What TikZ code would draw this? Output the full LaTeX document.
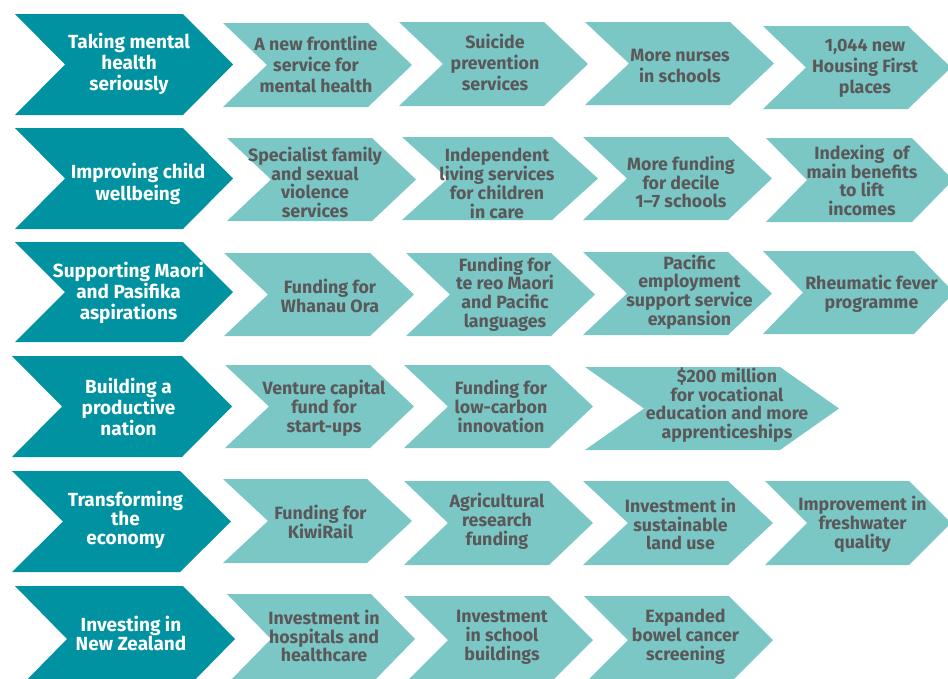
\documentclass[tikz,border=0pt]{standalone}
\usepackage{fontspec}
\setmainfont{Fira Sans}
\definecolor{darkteal}{HTML}{0092A0}
\definecolor{lightteal}{HTML}{7AC7C6}
\definecolor{txtgray}{HTML}{5A5859}
\newcommand{\chevshape}[6]{%
  \fill[#6] (#1,#2) -- (#3,#2) -- ({#3+#5},{#2+#4/2}) -- (#3,{#2+#4})
    -- (#1,{#2+#4}) -- ({#1+#5},{#2+#4/2}) -- cycle;}
\tikzset{
  hd/.style={fill=darkteal},
  lt/.style={fill=lightteal},
  htext/.style={text=white, align=center, inner sep=0pt,
    font=\fontsize{19}{19}\selectfont\bfseries},
  ltext/.style={text=txtgray, align=center, inner sep=0pt,
    font=\fontsize{17.8}{18.8}\selectfont\bfseries},
  hwide/.style={font=\fontsize{19}{21.3}\selectfont\bfseries},
  lwide/.style={font=\fontsize{17.8}{21}\selectfont\bfseries}
}
\begin{document}
\begin{tikzpicture}[x=1pt,y=-1pt]
\useasboundingbox (0,0) rectangle (948,678);
\clip (0,0) rectangle (948,678);
% Row 1
\chevshape{15}{14}{183}{101}{50}{hd}
\chevshape{223}{23}{368}{84}{44}{lt}
\chevshape{399}{22}{544}{84}{44}{lt}
\chevshape{585}{22}{730}{83}{44}{lt}
\chevshape{763}{26}{908}{83}{43}{lt}
\node[htext,hwide] (h1) at (129,64) {Taking mental\\health\\seriously};
\node[ltext,lwide] (r1c1) at (316,64) {A new frontline\\service for\\mental health};
\node[ltext,lwide] (r1c2) at (495,62) {Suicide\\prevention\\services};
\node[ltext,lwide] (r1c3) at (680,65.5) {More nurses\\in schools};
\node[ltext,lwide] (r1c4) at (865,68) {1,044 new\\Housing First\\places};
% Row 2
\chevshape{15}{128}{183}{101}{50}{hd}
\chevshape{227}{138}{372}{83}{44}{lt}
\chevshape{402}{137}{552}{83}{46}{lt}
\chevshape{583}{137}{728}{83}{44}{lt}
\chevshape{766}{138}{912}{84}{41}{lt}
\node[htext,hwide] (h2) at (138,184) {Improving child\\wellbeing};
\node[ltext] (r2c1) at (315,182.5) {Specialist family\\and sexual\\violence\\services};
\node[ltext] (r2c2) at (497,183.5) {Independent\\living services\\for children\\in care};
\node[ltext] (r2c3) at (681,182) {More funding\\for decile\\1–7 schools};
\node[ltext] (r2c4) at (862,180.5) {Indexing~ of\\main benefits\\to lift\\incomes};
% Row 3
\chevshape{15}{242}{183}{100}{50}{hd}
\chevshape{224}{253}{370}{83}{44}{lt}
\chevshape{406}{253}{551}{83}{44}{lt}
\chevshape{583}{252}{728}{83}{44}{lt}
\chevshape{763}{251}{914}{83}{40}{lt}
\node[htext,hwide] (h3) at (128.5,293) {Supporting Maori\\and Pasifika\\aspirations};
\node[ltext] (r3c1) at (330,296) {Funding for\\Whanau Ora};
\node[ltext] (r3c2) at (505,294) {Funding for\\te reo Maori\\and Pacific\\languages};
\node[ltext] (r3c3) at (689.5,292) {Pacific\\employment\\support service\\expansion};
\node[ltext] (r3c4) at (871.5,293.5) {Rheumatic fever\\programme};
% Row 4
\chevshape{12}{356}{182}{101}{50}{hd}
\chevshape{225}{365}{370}{83}{44}{lt}
\chevshape{404}{365}{549}{83}{44}{lt}
\chevshape{585}{367}{780}{83}{59}{lt}
\node[htext] (h4) at (128.5,407) {Building a\\productive\\nation};
\node[ltext] (r4c1) at (324,408) {Venture capital\\fund for\\start-ups};
\node[ltext] (r4c2) at (501,406.5) {Funding for\\low-carbon\\innovation};
\node[ltext] (r4c3) at (727,405) {\$200 million\\for vocational\\education and more\\apprenticeships};
% Row 5
\chevshape{12}{471}{180}{101}{51}{hd}
\chevshape{223}{479}{367}{84}{45}{lt}
\chevshape{404}{481}{549}{84}{44}{lt}
\chevshape{583}{481}{728}{84}{45}{lt}
\chevshape{765}{481}{909}{84}{42}{lt}
\node[htext] (h5) at (125.5,520) {Transforming\\the\\economy};
\node[ltext] (r5c1) at (320.5,522) {Funding for\\KiwiRail};
\node[ltext] (r5c2) at (497,521) {Agricultural\\research\\funding};
\node[ltext] (r5c3) at (680.5,524) {Investment in\\sustainable\\land use};
\node[ltext] (r5c4) at (862.5,524) {Improvement in\\freshwater\\quality};
% Row 6
\chevshape{15}{586}{183}{106}{52}{hd}
\chevshape{227}{594}{371}{90}{44}{lt}
\chevshape{404}{596}{549}{88}{44}{lt}
\chevshape{584}{596}{729}{88}{44}{lt}
\node[htext] (h6) at (131,633) {Investing in\\New Zealand};
\node[ltext] (r6c1) at (324,636) {Investment in\\hospitals and\\healthcare};
\node[ltext] (r6c2) at (502,637) {Investment\\in school\\buildings};
\node[ltext] (r6c3) at (685.5,637) {Expanded\\bowel cancer\\screening};
\end{tikzpicture}
\end{document}
